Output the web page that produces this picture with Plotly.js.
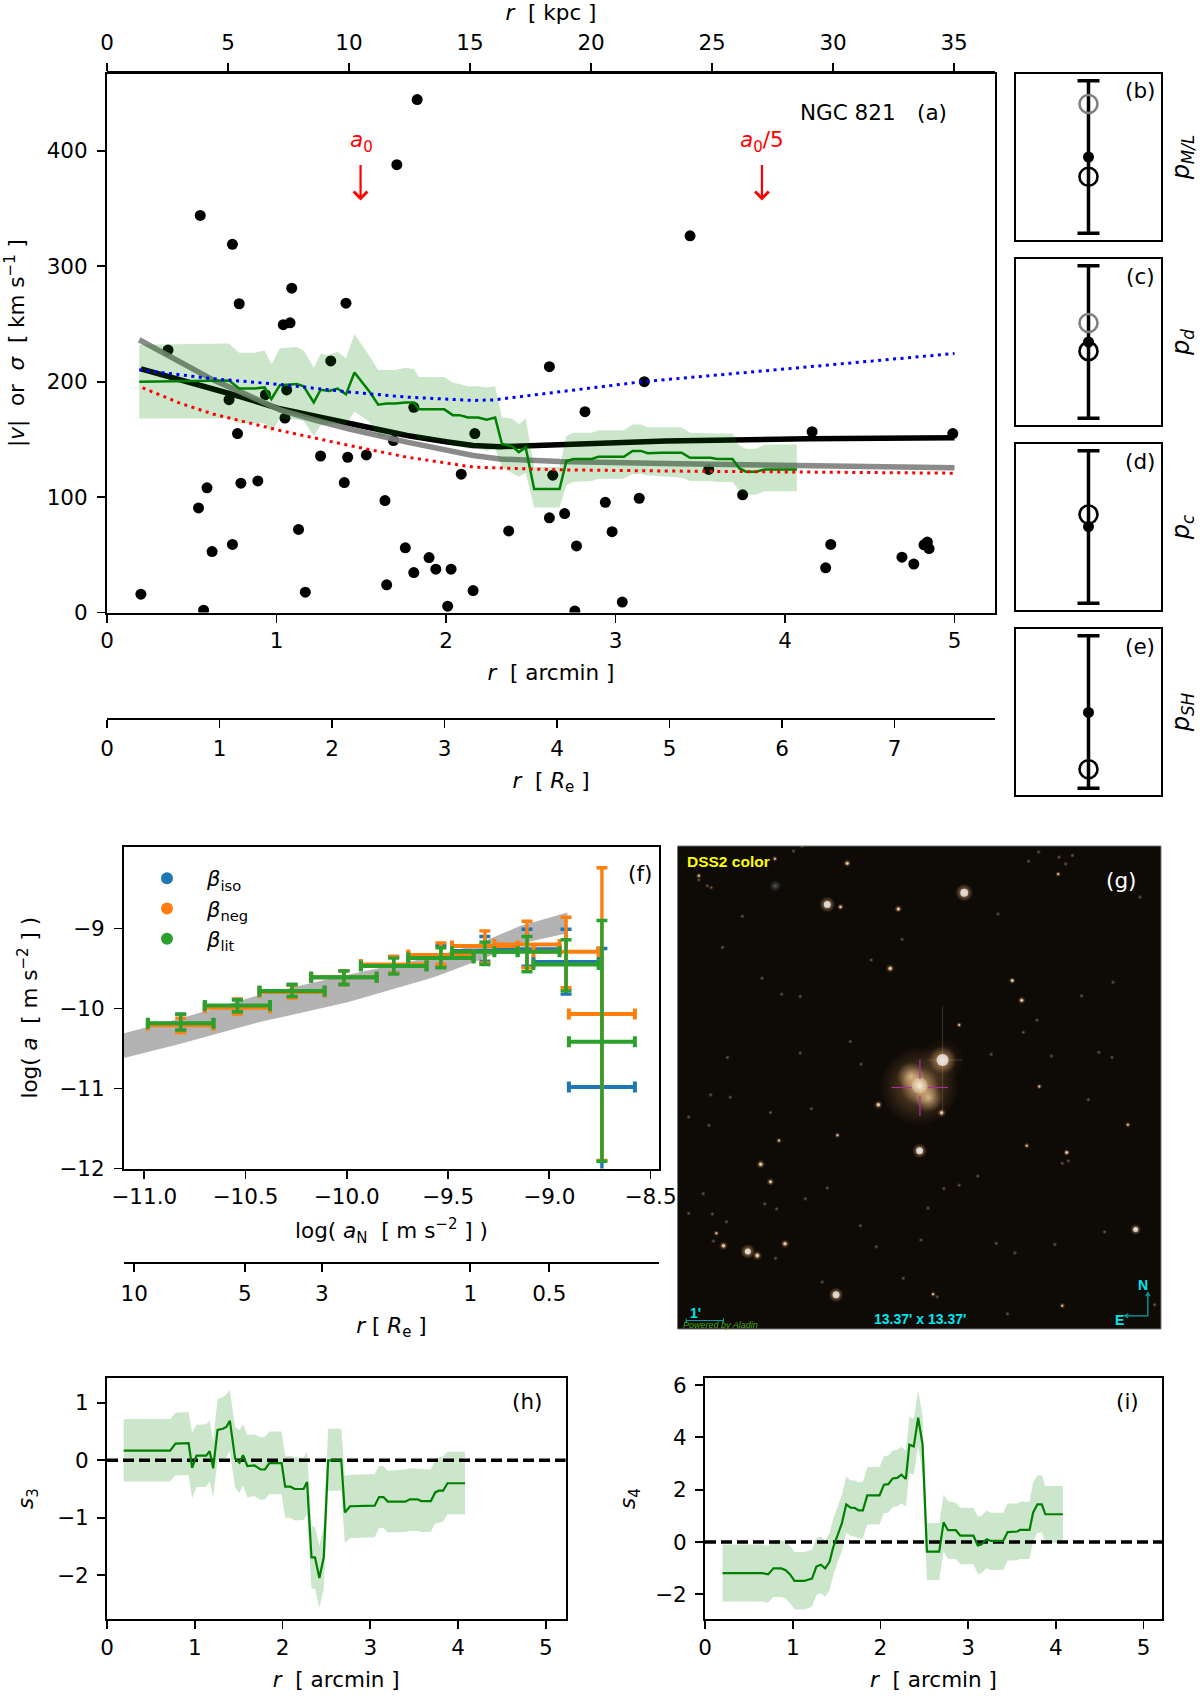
<!DOCTYPE html>
<html><head><meta charset="utf-8">
<script src="https://cdn.plot.ly/plotly-3.0.1.min.js"></script>
<style>html,body{margin:0;padding:0;background:#fff}</style></head>
<body><div id="chart" style="width:1200px;height:1700px"></div>
<script>
// ---------- panel (a) rotation / dispersion data ----------
const dotR = [1.83,1.71,0.55,0.74,0.78,1.09,1.41,1.04,1.08,0.36,1.32,2.61,2.82,0.935,1.06,0.72,1.05,1.81,0.77,2.17,1.26,1.42,1.53,2.09,2.63,1.69,0.79,0.89,0.59,1.40,0.54,1.64,2.37,2.61,2.70,1.13,0.74,0.62,2.77,1.76,1.90,1.94,2.03,1.81,1.65,2.16,1.17,0.20,2.01,0.57,2.76,2.94,3.14,2.98,3.04,3.55,3.75,4.16,4.99,4.27,4.24,4.69,4.76,4.82,4.84,4.85,3.17,3.44];
const dotV = [444.4,388,344,319,267.5,281,268,249.4,251,227.4,218,213,174,188.7,192.8,184.4,168.5,177.8,155,155,135.6,134.5,136.5,119.8,119,149,112,114,108,112.6,90.6,97,70.7,82,85.7,72,59,52.8,57.7,56,47.6,37.5,37.5,34.6,24,19,17.6,15.9,5.5,2,1.4,95.5,99,70,9,124,102,156.7,155,59,38.7,47.9,42,58.6,61,55.4,200,326.4];
const sigR = [0.19,0.72,0.78,0.87,0.93,0.97,1.02,1.12,1.16,1.22,1.26,1.31,1.36,1.41,1.46,1.55,1.60,1.65,1.70,1.76,1.81,1.84,1.99,2.04,2.08,2.13,2.19,2.24,2.29,2.33,2.39,2.43,2.47,2.52,2.67,2.71,2.75,2.86,2.90,3.05,3.10,3.15,3.19,3.27,3.39,3.44,3.56,3.60,3.69,3.73,3.77,3.83,3.88,4.07];
const sigV = [200,201,194,194,195,185,197,198,196,182,193,192,194,189,208,191,180,181,181,182,182,176,176,171,171,169,169,167,169,146,144,139,143,107,107,131,133,133,135,135,140,140,138,138.5,138.5,134,134,133,133,125,122,122,124,124];
const sigUp = [232,233,225,225,227,215,229,230,227,212,224,223,226,220.5,241,222,210,210,210,212,211,204,204,199,198,196,196,195,196,169,168,163,168,126,126,153,155.7,155.7,157.8,157.8,162.9,162.9,160.6,160.6,160.6,155.7,155,155,155,144.7,141.8,141.8,145.6,145.6];
const sigLo = [168,168,164,164,164,156,168,167,166,153,162,163,164,163,174,165,153,153,153,155,155,150,149,144,144,142,142,140,142,125.6,121,117.6,121,91,91,110,113,114,115.8,115.8,120,120,118.6,118,116.7,114,114,113,113,105.7,102,102,105,105];
const blackR = [0.2,0.4,0.625,0.8,1.02,1.2,1.375,1.6,1.77,2,2.16,2.32,2.55,2.8,3.3,4.13,5];
const blackV = [211,203,194,186.5,176.5,171,165.8,158.5,153.4,148,144.7,143.7,144.7,146,148.5,150.5,151.5];
const grayR = [0.19,0.43,0.625,0.82,1.02,1.22,1.43,1.77,2.16,2.32,2.67,3.37,4.2,5];
const grayV = [236.3,217,201.6,189,175.6,167,159,147.6,136,133,130.8,128.8,127.4,125.5];
const blueR = [0.19,0.625,1.02,1.43,1.77,2.16,2.28,2.67,3.16,4,5];
const blueV = [210.3,202.5,197.6,191,186.6,183.7,184.2,191,200,211,224.4];
const redR = [0.21,0.43,0.625,1.02,1.43,1.77,2.16,2.67,3.37,5];
const redV = [194.7,181.4,172,157.7,144.7,134.6,126,123.6,122.5,120.7];
const kpcTicks = [0,5,10,15,20,25,30,35];
const reTicks = [0,1,2,3,4,5,6,7];

// ---------- panels (b)-(e): posterior ends 0 / 1 ----------
const pMedian = [0.50,0.50,0.503,0.497];
const pLow = [0,0,0,0];
const pHigh = [1,1,1,1];
const pOpen = [0.37,0.44,0.582,0.124];
const pGray = [0.848,0.625,null,null];
const pLabels = ['<i>p<sub>M/L</sub></i>','<i>p<sub>d</sub></i>','<i>p<sub>c</sub></i>','<i>p<sub>SH</sub></i>'];
const pTags = ['(b)','(c)','(d)','(e)'];

// ---------- panel (f) ----------
const aN = [-10.82,-10.54,-10.27,-10.014,-9.768,-9.535,-9.318,-9.11,-8.917,-8.74];
const aNerr = [0.162,0.161,0.161,0.162,0.162,0.161,0.162,0.161,0.161,0.163];
const isoA = [-10.19,-9.98,-9.79,-9.61,-9.46,-9.35,-9.28,-9.26,-9.42,-10.98];
const isoHi = [-10.07,-9.89,-9.70,-9.53,-9.35,-9.21,-9.10,-9.01,-9.01,-9.25];
const isoLo = [-10.27,-10.05,-9.86,-9.70,-9.56,-9.47,-9.41,-9.47,-9.82,-12.5];
const negA = [-10.21,-9.99,-9.795,-9.61,-9.45,-9.33,-9.22,-9.20,-9.29,-10.07];
const negHi = [-10.12,-9.88,-9.71,-9.53,-9.35,-9.18,-9.03,-8.91,-8.86,-8.24];
const negLo = [-10.30,-10.07,-9.87,-9.70,-9.56,-9.45,-9.43,-9.49,-9.74,-11.90];
const litA = [-10.185,-9.963,-9.78,-9.61,-9.47,-9.37,-9.29,-9.29,-9.45,-10.415];
const litHi = [-10.07,-9.89,-9.70,-9.53,-9.37,-9.24,-9.17,-9.10,-9.14,-8.90];
const litLo = [-10.27,-10.04,-9.85,-9.70,-9.57,-9.49,-9.45,-9.54,-9.78,-11.91];
const bandAN = [-11.1,-10.835,-10.43,-10.0,-9.57,-9.36,-9.145,-8.91];
const bandUp = [-10.31,-10.135,-9.83,-9.58,-9.35,-9.2,-8.97,-8.80];
const bandLo = [-10.62,-10.45,-10.17,-9.925,-9.61,-9.41,-9.19,-9.06];
const reLogVals = [-11.05,-10.503,-10.123,-9.39,-9.0];
const reLogText = ['10','5','3','1','0.5'];

// ---------- panel (g) picture: sky positions in image units ----------
const brightX = [870,465,738,230,491,806,1377];
const brightY = [185,220,948,1246,1374,680,1181];
const brightS = [18,16,15,15,15,28,11];
const coreS = [8,7,7,6,7,12,5];
const midX = [258,158,340,651,268,297,1040,1012,1173,616,803,524,675,504,85,310,855,1092,778,1160,495,322,1055,1354,1148,137];
const midY = [1258,1229,1223,409,988,1040,503,445,953,812,836,98,233,227,135,85,576,758,1372,1406,902,918,933,871,130,1192];
const midS = [10,9,9,9,9,8,8,7,7,9,9,8,8,7,6,6,6,6,6,6,6,6,6,6,6,6];
const midCore = [4,3.5,3.5,3.5,3.5,3,3,3,3,3.5,3.5,3,3,2.5,2,2,2,2,2,2,2,2,2,2,2,2];
const faintX = [1390,950,790,1433,998,763,418,115,330,385,595,686,214,970,1090,1060,1170,1190,1150,365,390,85,110,122,155,272,1217,1237,1310,1128,1045,1085,1268,1307,385,565,533,170,120,55,297,178,1160,1178,910,855,810,465,400,98,280,315,55,125,167,128,312,450,690,1285,1138,1020,965,610,742,563];
const faintY = [198,663,1380,1403,1430,1118,824,873,485,492,384,323,255,248,65,92,100,75,80,62,47,147,165,170,347,438,490,797,450,668,598,562,657,672,659,692,625,672,783,848,835,790,985,978,1023,1050,1060,1058,1090,1075,1105,1120,1133,1135,1158,1215,1266,1336,1325,1188,1225,1250,1222,1232,1212,1170];
const blobX = [311];
const blobY = [165];
const glowX = [738,712,738,764,738];
const glowY = [757,728,757,792,755];
const glowS = [80,28,38,28,16];
const crossX = [655,714,null,764,822,null,739,739,null,739,739];
const crossY = [761,761,null,761,761,null,678,736,null,786,845];
const spikeX = [806,806,null,760,865];
const spikeY = [520,840,null,680,680];
const compassX = [1355,1345,1355,null,1345,1413,1413,null,1407,1413,1419];
const compassY = [1430,1436,1442,null,1436,1436,1368,null,1378,1368,1378];
const scaleX = [48,48,48,158,158,158];
const scaleY = [1444,1456,1450,1450,1444,1456];

// ---------- panels (h) & (i) ----------
const s3R = [0.19,0.72,0.78,0.93,0.97,1.02,1.13,1.17,1.21,1.26,1.32,1.36,1.40,1.46,1.51,1.55,1.60,1.68,1.75,1.80,1.85,1.99,2.03,2.09,2.14,2.24,2.28,2.33,2.37,2.42,2.47,2.52,2.67,2.71,2.77,2.85,2.90,3.05,3.10,3.15,3.20,3.40,3.45,3.54,3.58,3.69,3.74,3.78,3.83,3.88,4.08];
const s3V = [0.17,0.17,0.29,0.30,-0.13,0.08,0.08,0.16,-0.14,0.53,0.55,0.58,0.69,0.03,-0.04,0.09,-0.10,-0.09,-0.16,-0.16,-0.05,-0.05,-0.46,-0.46,-0.50,-0.50,-0.38,-1.69,-1.69,-2.05,-1.69,0,0,-0.91,-0.80,-0.80,-0.79,-0.79,-0.64,-0.64,-0.72,-0.72,-0.68,-0.68,-0.71,-0.71,-0.56,-0.53,-0.53,-0.40,-0.40];
const s3Up = [0.72,0.72,0.83,0.84,0.48,0.62,0.63,0.70,0.34,1.07,1.10,1.15,1.22,0.58,0.53,0.63,0.44,0.45,0.40,0.41,0.50,0.50,0.08,0.08,0.05,0.05,0.16,-1.15,-1.15,-1.49,-1.15,0.55,0.55,-0.27,-0.25,-0.25,-0.24,-0.24,-0.10,-0.10,-0.18,-0.16,-0.14,-0.14,-0.15,-0.16,0,0.05,0.07,0.15,0.15];
const s3Lo = [-0.37,-0.37,-0.26,-0.26,-0.66,-0.47,-0.46,-0.37,-0.65,0,0.02,0.05,0.16,-0.48,-0.57,-0.44,-0.65,-0.62,-0.69,-0.68,-0.59,-0.59,-1.0,-1.0,-1.05,-1.04,-0.94,-2.24,-2.24,-2.57,-2.24,-0.53,-0.53,-1.44,-1.36,-1.35,-1.35,-1.34,-1.18,-1.18,-1.26,-1.25,-1.23,-1.23,-1.25,-1.25,-1.10,-1.08,-1.07,-0.94,-0.94];
const s4R = [0.20,0.65,0.72,0.78,0.87,0.92,0.97,1.02,1.13,1.22,1.27,1.32,1.37,1.42,1.46,1.51,1.56,1.61,1.66,1.71,1.75,1.80,1.85,1.99,2.04,2.09,2.14,2.19,2.24,2.29,2.33,2.38,2.43,2.48,2.53,2.67,2.72,2.77,2.86,2.91,3.06,3.11,3.15,3.21,3.26,3.40,3.45,3.56,3.59,3.70,3.74,3.79,3.84,3.88,4.08];
const s4V = [-1.19,-1.19,-1.24,-1.01,-1.01,-1.08,-1.24,-1.49,-1.49,-1.40,-0.94,-0.87,-1.01,-0.76,-0.22,0.29,0.71,1.44,1.31,1.30,1.21,1.21,1.78,1.78,2.19,2.21,2.43,2.45,2.57,2.41,3.72,3.65,4.75,3.73,-0.37,-0.37,0.75,0.45,0.45,0.24,0.24,-0.13,-0.10,0.10,0.04,0.04,0.38,0.40,0.46,0.46,1.12,1.44,1.44,1.06,1.06];
const s4Up = [-0.10,-0.10,-0.15,0.07,0.07,0,-0.15,-0.38,-0.38,-0.30,0.15,0.20,0.07,0.33,0.88,1.38,1.80,2.50,2.36,2.35,2.28,2.30,2.87,2.87,3.28,3.30,3.50,3.52,3.64,3.48,4.78,4.72,5.80,4.80,0.73,0.73,1.82,1.57,1.50,1.31,1.31,0.97,1.0,1.19,1.12,1.12,1.47,1.47,1.54,1.54,2.27,2.55,2.55,2.14,2.14];
const s4Lo = [-2.28,-2.28,-2.32,-2.10,-2.10,-2.17,-2.33,-2.58,-2.58,-2.49,-2.03,-1.96,-2.09,-1.85,-1.30,-0.78,-0.36,0.35,0.23,0.20,0.13,0.13,0.67,0.67,1.10,1.12,1.34,1.36,1.48,1.35,2.63,2.57,3.68,2.64,-1.45,-1.45,-0.35,-0.65,-0.65,-0.85,-0.85,-1.22,-1.20,-1.0,-1.07,-1.07,-0.72,-0.70,-0.65,-0.65,0,0.35,0.35,-0.03,-0.03];
const zeroX = [0,5.3];
const zeroY = [0,0];

// ---------- layout helpers ----------
const W = 1200, H = 1700, FS = 21.5, FONT = 'DejaVu Sans, sans-serif';
const fx = p => p / W, fy = p => 1 - p / H;
const domX = (a, b) => [fx(a), fx(b)];
const domY = (t, b) => [fy(b), fy(t)];
const tf = {family: FONT, size: FS, color: '#000'};
const NB = '\u00a0';
const GREEN = '#008000', BAND = 'rgba(0,128,0,0.2)';
const skip = {hoverinfo: 'skip', showlegend: false};
const frame = {showline: true, linecolor: '#000', linewidth: 2, mirror: true, showgrid: false, zeroline: false,
  ticks: 'outside', ticklen: 8, tickwidth: 1.8, tickcolor: '#000', tickfont: tf, layer: 'above traces'};
const band = (x, up, lo, xa, ya) => ({x: x.concat([...x].reverse()), y: up.concat([...lo].reverse()), mode: 'lines',
  fill: 'toself', fillcolor: BAND, line: {width: 0}, xaxis: xa, yaxis: ya, ...skip});
const ln = (x, y, color, width, dash, xa, ya) => ({x, y, mode: 'lines', line: {color, width, dash: dash || 'solid'}, xaxis: xa, yaxis: ya, ...skip});
const title = (text, standoff) => ({text, standoff, font: tf});

const traces = [], annos = [], shapes = [];
const layout = {width: W, height: H, margin: {l: 0, r: 0, t: 0, b: 0, pad: 0}, paper_bgcolor: '#fff', plot_bgcolor: 'rgba(0,0,0,0)',
  font: tf, hovermode: false, annotations: annos, shapes: shapes,
  legend: {x: fx(127), y: fy(858), xanchor: 'left', yanchor: 'top', bgcolor: 'rgba(0,0,0,0)', itemsizing: 'constant', itemwidth: 70,
    font: {family: FONT, size: 21, color: '#000'}, tracegroupgap: 0}};
const note = (text, px, py, size, color, extra) => annos.push({text, x: fx(px), y: fy(py), xref: 'paper', yref: 'paper', showarrow: false,
  xanchor: 'center', yanchor: 'middle', font: {family: FONT, size: size || FS, color: color || '#000'}, ...(extra || {})});

// ---------- (a) ----------
layout.xaxis = {...frame, domain: domX(107, 995), range: [0, 5.239], tickvals: [0,1,2,3,4,5], anchor: 'y',
  title: title(`<i>r</i>${NB}${NB}[ arcmin ]`, 13)};
layout.yaxis = {...frame, domain: domY(73.5, 612.5), range: [0, 467], tickvals: [0,100,200,300,400], anchor: 'x', ticklabelstandoff: 5,
  title: title(`|<i>v</i>|${NB}${NB}or${NB}${NB}<i>σ</i>${NB}${NB}[ km${NB}s<sup>−1</sup> ]`, 16)};
traces.push({x: dotR, y: dotV, mode: 'markers', marker: {color: '#000', size: 11}, xaxis: 'x', yaxis: 'y', ...skip});
traces.push(ln(blackR, blackV, '#000', 5.5, null, 'x', 'y'));
traces.push({...ln(grayR, grayV, '#808080', 5.5, null, 'x', 'y'), opacity: 0.92});
traces.push(band(sigR, sigUp, sigLo, 'x', 'y'));
traces.push(ln(sigR, sigV, GREEN, 2.5, null, 'x', 'y'));
traces.push(ln(redR, redV, '#ff0000', 3, '3px,4.5px', 'x', 'y'));
traces.push(ln(blueR, blueV, '#0000ff', 3, '3px,4.5px', 'x', 'y'));
annos.push({x: 1.496, y: 357, ax: 1.496, ay: 389, axref: 'x', ayref: 'y', xref: 'x', yref: 'y', showarrow: true, arrowhead: 4, arrowsize: 1.2, arrowwidth: 2.2, arrowcolor: '#ff0000', text: ''});
annos.push({x: 3.864, y: 357, ax: 3.864, ay: 389, axref: 'x', ayref: 'y', xref: 'x', yref: 'y', showarrow: true, arrowhead: 4, arrowsize: 1.2, arrowwidth: 2.2, arrowcolor: '#ff0000', text: ''});
note('<i>a</i><sub>0</sub>', 361, 141, FS, '#ff0000');
note('<i>a</i><sub>0</sub>/5', 762, 141, FS, '#ff0000');
note(`NGC${NB}821`, 848, 112);
note('(a)', 932, 112);

// top kpc axis
layout.xaxis2 = {...frame, mirror: false, domain: domX(107, 995), range: [0, 36.69], side: 'top', anchor: 'y2', tickvals: kpcTicks, ticklabelstandoff: 4,
  title: title(`<i>r</i>${NB}${NB}[ kpc ]`, 6)};
layout.yaxis2 = {domain: domY(73, 74), visible: false, range: [0, 1], anchor: 'x2', fixedrange: true};
traces.push({x: [0], y: [null], xaxis: 'x2', yaxis: 'y2', mode: 'markers', ...skip});
// Re axis
layout.xaxis3 = {...frame, mirror: false, domain: domX(107, 995), range: [0, 7.893], side: 'bottom', anchor: 'y3', tickvals: reTicks, ticklabelstandoff: 2,
  title: title(`<i>r</i>${NB}${NB}[ <i>R</i><sub>e</sub> ]`, 13)};
layout.yaxis3 = {domain: domY(717, 718), visible: false, range: [0, 1], anchor: 'x3', fixedrange: true};
traces.push({x: [0], y: [null], xaxis: 'x3', yaxis: 'y3', mode: 'markers', ...skip});

// ---------- (b)-(e) ----------
const pBoxes = [[74,240],[259,425],[444,610],[629,795]];
pBoxes.forEach((b, i) => {
  const n = 4 + i, xa = 'x' + n, ya = 'y' + n;
  layout['xaxis' + n] = {...frame, ticks: '', showticklabels: false, domain: domX(1016, 1161), range: [-1, 1], anchor: 'y' + n};
  layout['yaxis' + n] = {...frame, ticks: '', showticklabels: false, domain: domY(b[0], b[1]), range: [-0.045, 1.045], anchor: 'x' + n, side: 'right',
    title: {text: pLabels[i], standoff: 10, font: {family: FONT, size: 24, color: '#000'}}};
  traces.push({x: [0], y: [pMedian[i]], mode: 'markers', marker: {color: '#000', size: 11}, xaxis: xa, yaxis: ya, ...skip,
    error_y: {type: 'data', symmetric: false, array: [pHigh[i] - pMedian[i]], arrayminus: [pMedian[i] - pLow[i]], color: '#000', thickness: 3.5, width: 11}});
  traces.push({x: [0], y: [pOpen[i]], mode: 'markers', marker: {color: 'rgba(0,0,0,0)', size: 18, line: {color: '#000', width: 2.6}}, xaxis: xa, yaxis: ya, ...skip});
  if (pGray[i] !== null) traces.push({x: [0], y: [pGray[i]], mode: 'markers', marker: {color: 'rgba(0,0,0,0)', size: 18, line: {color: '#808080', width: 2.6}}, xaxis: xa, yaxis: ya, ...skip});
  note(pTags[i], 1140, b[0] + 17);
});

// ---------- (f) ----------
layout.xaxis8 = {...frame, domain: domX(124, 659), range: [-11.1, -8.458], tick0: -11, dtick: 0.5, tickformat: '.1f', anchor: 'y8',
  title: title(`log(${NB}<i>a</i><sub>N</sub>${NB}${NB}[ m${NB}s<sup>−2</sup> ]${NB})`, 15)};
layout.yaxis8 = {...frame, domain: domY(847, 1168.5), range: [-12, -7.981], tickvals: [-12,-11,-10,-9], anchor: 'x8', ticklabelstandoff: 5,
  title: title(`log(${NB}<i>a</i>${NB}${NB}[ m${NB}s<sup>−2</sup> ]${NB})`, 16)};
traces.push({x: bandAN.concat([...bandAN].reverse()), y: bandUp.concat([...bandLo].reverse()), mode: 'lines', fill: 'toself', fillcolor: '#b3b3b3', line: {width: 0}, xaxis: 'x8', yaxis: 'y8', ...skip});
const errSeries = (name, color, y, hi, lo) => ({name, x: aN, y, mode: 'markers', marker: {color, size: 1}, xaxis: 'x8', yaxis: 'y8', hoverinfo: 'skip', showlegend: true,
  error_x: {type: 'data', array: aNerr, color, thickness: 4, width: 5.5},
  error_y: {type: 'data', symmetric: false, array: hi.map((v, i) => v - y[i]), arrayminus: lo.map((v, i) => y[i] - v), color, thickness: 3.4, width: 5.5}});
traces.push(errSeries('<i>β</i><sub>iso</sub>', '#1f77b4', isoA, isoHi, isoLo));
traces.push(errSeries('<i>β</i><sub>neg</sub>', '#ff7f0e', negA, negHi, negLo));
traces.push(errSeries('<i>β</i><sub>lit</sub>', '#2ca02c', litA, litHi, litLo));
note('(f)', 640, 873);
layout.xaxis9 = {...frame, mirror: false, domain: domX(124, 659), range: [-11.1, -8.458], side: 'bottom', anchor: 'y9', tickvals: reLogVals, ticktext: reLogText, ticklabelstandoff: 3,
  title: title(`<i>r</i>${NB}[ <i>R</i><sub>e</sub> ]`, 13)};
layout.yaxis9 = {domain: domY(1261, 1262), visible: false, range: [0, 1], anchor: 'x9', fixedrange: true};
traces.push({x: [-10], y: [null], xaxis: 'x9', yaxis: 'y9', mode: 'markers', ...skip});

// ---------- (g) sky picture ----------
layout.xaxis10 = {domain: domX(677.5, 1161), range: [22, 1452], visible: false, anchor: 'y10', fixedrange: true};
layout.yaxis10 = {domain: domY(846, 1329), range: [1475, 47], visible: false, anchor: 'x10', fixedrange: true};
shapes.push({type: 'rect', xref: 'paper', yref: 'paper', x0: fx(677.5), x1: fx(1161), y0: fy(1329), y1: fy(846), fillcolor: '#0e0a06', line: {color: '#777', width: 1}, layer: 'below'});
// In Plotly a radial gradient's `gradient.color` is the centre and `marker.color` the rim.
const glow = (x, y, size, centre, rim) => ({x, y, mode: 'markers', xaxis: 'x10', yaxis: 'y10', ...skip,
  marker: {size, color: rim, line: {width: 0}, gradient: {type: 'radial', color: centre}}});
const core = (x, y, size, color) => ({x, y, mode: 'markers', xaxis: 'x10', yaxis: 'y10', ...skip, marker: {size, color, line: {width: 0}}});
traces.push(glow(faintX, faintY, faintX.map(() => 5), 'rgba(205,165,120,0.85)', 'rgba(120,90,60,0)'));
traces.push(glow(blobX, blobY, [12], 'rgba(150,170,180,0.7)', 'rgba(90,110,120,0)'));
traces.push(glow(midX, midY, midS, 'rgba(255,215,165,0.95)', 'rgba(200,120,50,0)'));
traces.push(core(midX, midY, midCore, '#ffe9cc'));
traces.push(glow([806], [680], [44], 'rgba(190,140,90,0.35)', 'rgba(150,100,60,0)'));
traces.push(ln(spikeX, spikeY, 'rgba(255,215,170,0.18)', 1, null, 'x10', 'y10'));
traces.push(glow(glowX.slice(0,1), glowY.slice(0,1), glowS.slice(0,1), 'rgba(225,170,110,0.75)', 'rgba(170,120,70,0)'));
traces.push(glow(glowX.slice(1,4), glowY.slice(1,4), glowS.slice(1,4), 'rgba(255,225,175,1)', 'rgba(240,180,110,0)'));
traces.push(glow(glowX.slice(4), glowY.slice(4), glowS.slice(4), '#ffffff', 'rgba(255,235,200,0.4)'));
traces.push(glow(brightX, brightY, brightS, 'rgba(255,225,180,1)', 'rgba(255,170,90,0)'));
traces.push(core(brightX, brightY, coreS, '#ffffff'));
traces.push(ln(crossX, crossY, '#a8309c', 1.2, null, 'x10', 'y10'));
traces.push(ln(compassX, compassY, '#00a5a5', 1.3, null, 'x10', 'y10'));
traces.push(ln(scaleX, scaleY, '#00a5a5', 1, null, 'x10', 'y10'));
const SANS = 'Liberation Sans, sans-serif';
const skyNote = (text, zx, zy, size, color, bold) => annos.push({text: bold ? `<b>${text}</b>` : text, x: zx, y: zy, xref: 'x10', yref: 'y10', showarrow: false,
  xanchor: 'center', yanchor: 'middle', font: {family: SANS, size, color}});
skyNote('DSS2 color', 173, 92, 15.5, '#ffff00', true);
skyNote("13.37' x 13.37'", 738, 1444, 14, '#00e5f0', true);
skyNote("1'", 74, 1427, 14, '#00e5f0', true);
skyNote('N', 1398, 1345, 14, '#00e5f0', true);
skyNote('E', 1330, 1448, 14, '#00e5f0', true);
skyNote('<i>Powered by Aladin</i>', 150, 1463, 9, '#46a800', false);
annos.push({text: '(g)', x: 1333, y: 150, xref: 'x10', yref: 'y10', showarrow: false, font: {family: FONT, size: FS, color: '#fff'}});

// ---------- (h), (i) ----------
layout.xaxis11 = {...frame, domain: domX(107, 565.6), range: [0, 5.226], tickvals: [0,1,2,3,4,5], anchor: 'y11',
  title: title(`<i>r</i>${NB}${NB}[ arcmin ]`, 13)};
layout.yaxis11 = {...frame, domain: domY(1378, 1619), range: [-2.765, 1.434], tickvals: [-2,-1,0,1], anchor: 'x11', ticklabelstandoff: 4,
  title: title('<i>s</i><sub>3</sub>', 17)};
traces.push(band(s3R, s3Up, s3Lo, 'x11', 'y11'));
traces.push(ln(zeroX, zeroY, '#000', 3.5, '11px,5px', 'x11', 'y11'));
traces.push(ln(s3R, s3V, GREEN, 2.2, null, 'x11', 'y11'));
note('(h)', 527, 1401);
layout.xaxis12 = {...frame, domain: domX(705, 1162), range: [0, 5.21], tickvals: [0,1,2,3,4,5], anchor: 'y12',
  title: title(`<i>r</i>${NB}${NB}[ arcmin ]`, 13)};
layout.yaxis12 = {...frame, domain: domY(1378, 1619), range: [-2.945, 6.27], tickvals: [-2,0,2,4,6], anchor: 'x12', ticklabelstandoff: 4,
  title: title('<i>s</i><sub>4</sub>', 13)};
traces.push(band(s4R, s4Up, s4Lo, 'x12', 'y12'));
traces.push(ln(zeroX, zeroY, '#000', 3.5, '11px,5px', 'x12', 'y12'));
traces.push(ln(s4R, s4V, GREEN, 2.2, null, 'x12', 'y12'));
note('(i)', 1127, 1401);

Plotly.newPlot('chart', traces, layout, {displayModeBar: false, staticPlot: true}).then(gd => {
  // Plotly leaves empty placeholder <text> nodes for untitled axes and textless arrows.
  gd.querySelectorAll('text').forEach(t => { if (!t.textContent.trim()) t.remove(); });
});
</script></body></html>
